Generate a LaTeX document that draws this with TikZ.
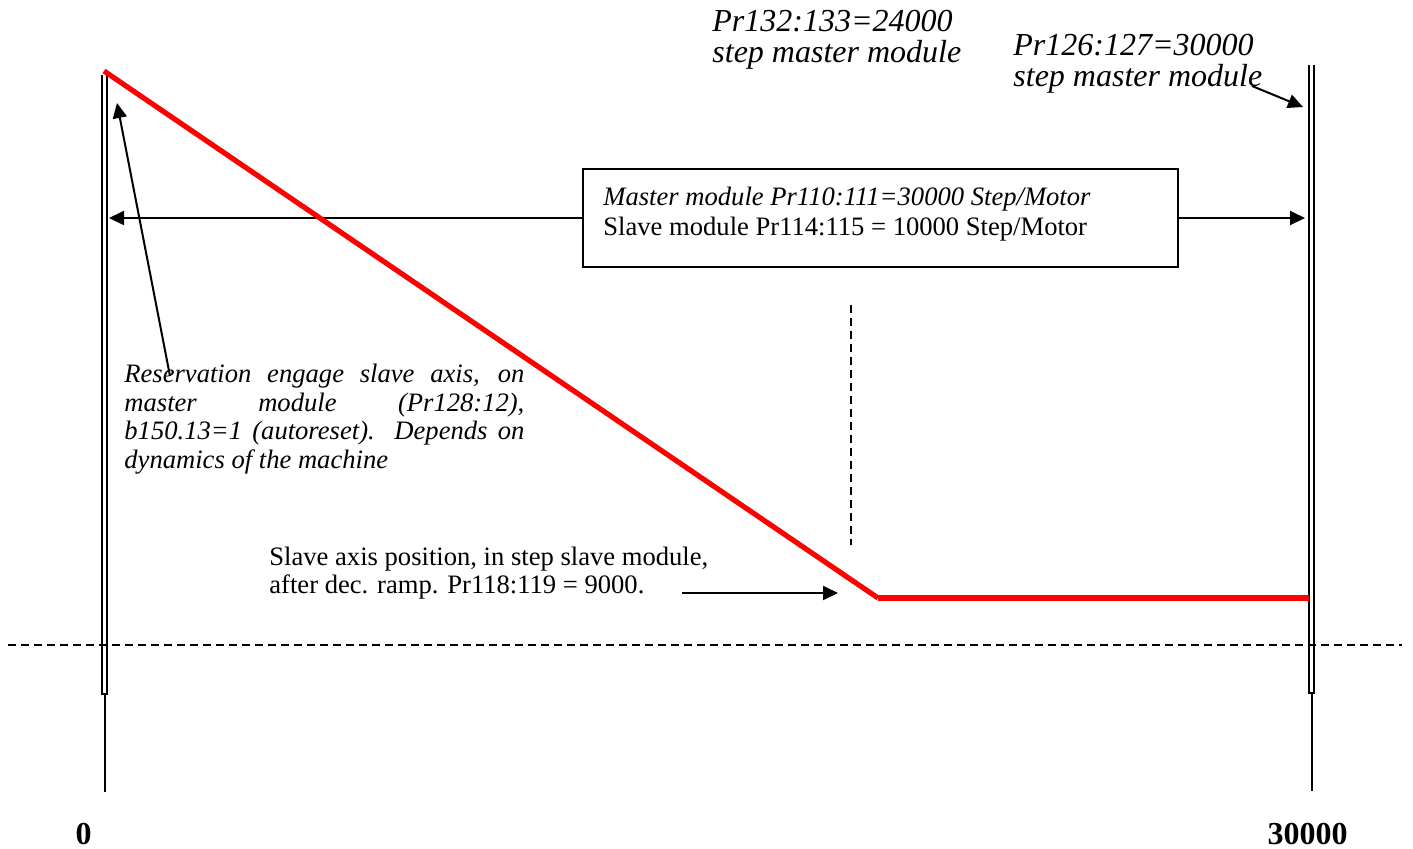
\documentclass[tikz,border=0pt]{standalone}
\usepackage{fontspec}
\setmainfont{Liberation Serif}
\usetikzlibrary{arrows.meta}
\begin{document}
\begin{tikzpicture}[x=0.5pt,y=-0.5pt,
  blk/.style={line width=1pt,black},
  arr/.style={line width=1pt,-{Triangle[length=7.5pt,width=7pt]}},
  dashline/.style={line width=0.75pt,dash pattern=on 4pt off 2.5pt},
  redline/.style={line width=2.6pt,red},
  lbl/.style={inner sep=0,anchor=north west,align=left},
  body/.style={font=\fontsize{13.3}{14}\selectfont},
  bodyit/.style={font=\fontsize{13.3}{14.3}\selectfont\itshape},
  numlbl/.style={inner sep=0,anchor=base,font=\fontsize{16}{18}\selectfont\bfseries}]
\useasboundingbox (0,0) rectangle (1413,848);

% coordinates
\coordinate (LA) at (102,75);
\coordinate (LB) at (102,694);
\coordinate (LC) at (107,694);
\coordinate (LD) at (107,75);
\coordinate (LS1) at (104.5,694);
\coordinate (LS2) at (104.5,792);
\coordinate (RA) at (1309,65);
\coordinate (RB) at (1309,693);
\coordinate (RC) at (1314,693);
\coordinate (RD) at (1314,65);
\coordinate (RS1) at (1311.5,693);
\coordinate (RS2) at (1311.5,791);
\coordinate (R0) at (104,71);
\coordinate (R1) at (878,598);
\coordinate (R2) at (1309,598);
\coordinate (HD1) at (8,645);
\coordinate (HD2) at (1402,645);
\coordinate (VD1) at (851,305);
\coordinate (VD2) at (851,545);

% double vertical lines
\draw[blk] (LA) -- (LB) -- (LC) -- (LD);
\draw[blk] (LS1) -- (LS2);
\draw[blk] (RA) -- (RB) -- (RC) -- (RD);
\draw[blk] (RS1) -- (RS2);

% dashed lines
\draw[dashline] (HD1) -- (HD2);
\draw[dashline] (VD1) -- (VD2);

% box
\node[draw,line width=1pt,minimum width=297.5pt,minimum height=49pt,inner sep=0,anchor=north west] (box) at (582,168) {};
\node[lbl,body] (boxtext) at (603,185) {\rule{0pt}{10pt}{\itshape Master module Pr110:111=30000 Step/Motor}\\[1pt]Slave module Pr114:115 = 10000 Step/Motor};

\coordinate (LAt) at (109,0);
\coordinate (RAt) at (1305,0);
\draw[arr] (box.west) -- (LAt |- box.west);
\draw[arr] (box.east) -- (RAt |- box.east);

% top labels
\node[lbl,font=\fontsize{16}{15.5}\selectfont\itshape] (topL) at (712,7) {\rule{0pt}{12pt}Pr132:133=24000\\step master module};
\node[lbl,font=\fontsize{16}{15.5}\selectfont\itshape] (topR) at (1013,31) {\rule{0pt}{12pt}Pr126:127=30000\\step master module};
\coordinate (TRa) at (1252,86);
\coordinate (TRb) at (1303,107);
\draw[arr] (TRa) -- (TRb);

% reservation text
\node[lbl,bodyit] (resv) at (124,362) {\rule{0pt}{10pt}\makebox[200pt][s]{Reservation engage slave axis, on}\\
\makebox[200pt][s]{master module (Pr128:12),}\\
\makebox[200pt][s]{b150.13=1 (autoreset). Depends on}\\
dynamics of the machine};
\coordinate (RVa) at (170,376);
\coordinate (RVb) at (117,103);
\draw[arr] (RVa) -- (RVb);

% slave axis text
\node[lbl,body] (slavetxt) at (269,545) {\rule{0pt}{10pt}Slave axis position, in step slave module,\\after dec. ramp. Pr118:119 = 9000.};
\coordinate (SAa) at (682,593);
\coordinate (SAb) at (838,593);
\draw[arr] (SAa) -- (SAb);

% red profile
\draw[redline] (R0) -- (R1);
\draw[redline] (R1) -- (R2);

% axis numbers
\node[numlbl] (zero) at (83.5,844) {0};
\node[numlbl] (thirty) at (1307.5,844) {30000};
\end{tikzpicture}
\end{document}
